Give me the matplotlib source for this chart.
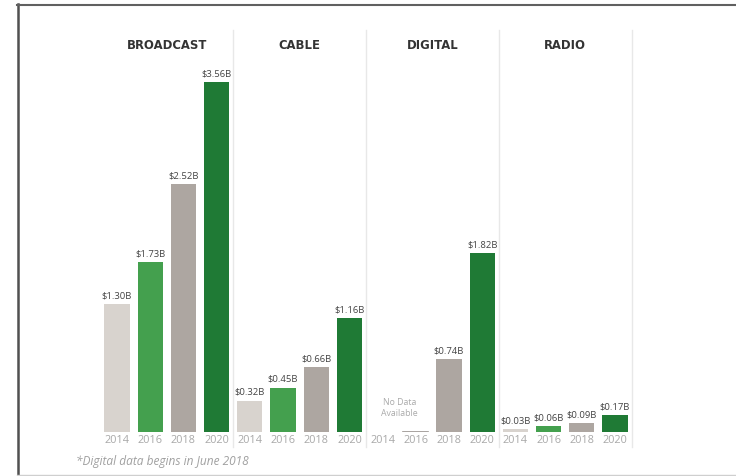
import numpy as np
import matplotlib
matplotlib.use("Agg")
import matplotlib.pyplot as plt
from matplotlib.lines import Line2D

# ---- data ----
groups = ["BROADCAST", "CABLE", "DIGITAL", "RADIO"]
years = ["2014", "2016", "2018", "2020"]
broadcast = [1.30, 1.73, 2.52, 3.56]
cable = [0.32, 0.45, 0.66, 1.16]
digital = [np.nan, np.nan, 0.74, 1.82]
radio = [0.03, 0.06, 0.09, 0.17]
no_data_text = "No Data\nAvailable"
footnote = "*Digital data begins in June 2018"
year_colors = ["#d8d3ce", "#44a04e", "#ada6a1", "#1f7a35"]

series = [broadcast, cable, digital, radio]

W, H = 736, 476
fig = plt.figure(figsize=(W / 100, H / 100), dpi=100)
fig.patch.set_facecolor("white")

# axes mapping: x index -> pixel 117 + 33.2*i ; y value 0 -> pixel 432, 98.3 px/unit
xl, xr = -0.6, 15.6
left_px = 117 + xl * 33.2
right_px = 117 + xr * 33.2
ytop = 4.0
ax = fig.add_axes([left_px / W, (H - 432) / H, (right_px - left_px) / W, ytop * 98.3 / H])
ax.set_xlim(xl, xr)
ax.set_ylim(0, ytop)
for s in ax.spines.values():
    s.set_visible(False)
ax.set_yticks([])

font = "Open Sans"
xs, labels = [], []
for g, vals in enumerate(series):
    for k, v in enumerate(vals):
        i = g * 4 + k
        xs.append(i)
        labels.append(years[k])
        if np.isnan(v):
            continue
        ax.bar(i, v, width=0.76, color=year_colors[k], zorder=2)
        ax.text(i, v + 0.04, f"${v:.2f}B", ha="center", va="bottom",
                fontsize=6.8, color="#444444", family=font)

# placeholder stub for digital 2016 (no data)
ax.plot([9 - 0.38, 9 + 0.38], [0.005, 0.005], color="#9a9490", lw=1.2, zorder=2)
ax.text(8.5, 0.24, no_data_text, ha="center", va="center", fontsize=6.3,
        color="#aaaaaa", family=font, linespacing=1.3)

ax.set_xticks(xs)
ax.set_xticklabels(labels, fontsize=7.8, color="#a8a8a8", family=font)
ax.tick_params(axis="x", length=0, pad=2)

# group titles and separators
for g, name in enumerate(groups):
    cx = g * 4 + 1.5
    ax.text(cx, 3.93, name, ha="center", va="center", fontsize=8.4,
            fontweight="bold", color="#333333", family="DejaVu Sans")
    sx = g * 4 + 3.5
    ax.add_line(Line2D([sx, sx], [-0.15, 4.09], color="#e8e8e8", lw=1.0,
                       clip_on=False, zorder=1))

# footnote
fig.text(76 / W, 1 - 461 / H, footnote, fontsize=8.6, style="italic",
         color="#a0a0a0", family=font, va="center", ha="left")

# outer frame
fig.add_artist(Line2D([18 / W, 18 / W], [1 - 4 / H, 1 - 475 / H],
                      transform=fig.transFigure, color="#505050", lw=1.8))
fig.add_artist(Line2D([17 / W, 1.0], [1 - 4.5 / H, 1 - 4.5 / H],
                      transform=fig.transFigure, color="#606060", lw=1.5))
fig.add_artist(Line2D([17 / W, 1.0], [1 - 474.5 / H, 1 - 474.5 / H],
                      transform=fig.transFigure, color="#cfcfcf", lw=1.0))

fig.savefig("out.png", dpi=100)
